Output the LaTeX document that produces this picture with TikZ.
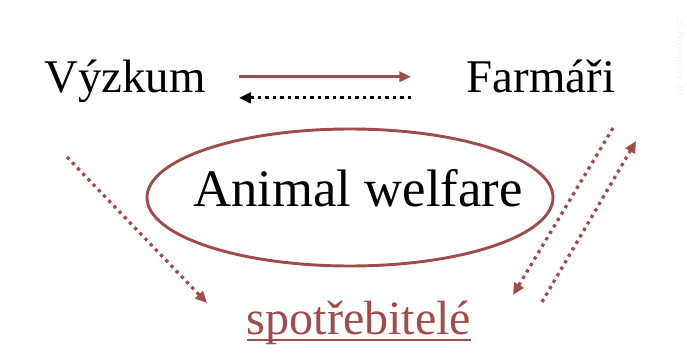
\documentclass[tikz,border=0pt]{standalone}
\usepackage{fontspec}
\setmainfont{Liberation Serif}
\usetikzlibrary{arrows.meta,shapes.geometric}
\definecolor{welfred}{RGB}{158,76,76}

\begin{document}
\begin{tikzpicture}[x=0.03cm,y=-0.03cm,
  nadpis/.style={anchor=base,font=\fontsize{40}{48}\selectfont},
  plnasip/.style={welfred,line width=2.5pt,-{Triangle[length=10pt,width=8.5pt]}},
  teckysip/.style={line width=2.8pt,dash pattern=on 2.8pt off 3.6pt,-{Triangle[length=10pt,width=9pt]}},
  hnedytecky/.style={teckysip,welfred}]
\useasboundingbox (0,0) rectangle (687,360);
% texty
\node[nadpis] (vyzkum) at (125,92) {Výzkum};
\node[nadpis] (farmari) at (541,92) {Farmáři};
\node[draw=welfred,line width=2.5pt,ellipse,minimum width=12.18cm,minimum height=4.11cm] (kruh) at (350,197.5) {};
\node[anchor=base,font=\fontsize{45}{54}\selectfont] (welfare) at (358,206) {Animal welfare};
\node[anchor=base,inner sep=0pt,text=welfred,font=\fontsize{41}{48}\selectfont] (spotr) at (359,334) {spotřebitelé};
\draw[welfred,line width=1.6pt] ([yshift=-5pt]spotr.base west) -- ([yshift=-5pt]spotr.base east);
\node[rotate=-90,text=gray!10,font=\fontsize{10}{12}\selectfont] (datum) at (681,56) {20 November 20};
%sipky nahore
\draw[plnasip,shorten <=25pt,shorten >=44pt] ([yshift=13pt]vyzkum.base east) -- ([yshift=13pt]farmari.base west);
\draw[teckysip,shorten <=44pt,shorten >=25pt] ([yshift=-5pt]farmari.base west) -- ([yshift=-5pt]vyzkum.base east);
%sipky dolu
\coordinate (v1) at (67,157); \coordinate (s1) at (207,303);
\coordinate (f1) at (613,128); \coordinate (s2) at (513,295);
\coordinate (s3) at (542,302); \coordinate (f2) at (636,141);
\draw[hnedytecky] (v1) -- (s1);
\draw[hnedytecky] (f1) -- (s2);
\draw[hnedytecky] (s3) -- (f2);
\end{tikzpicture}
\end{document}
